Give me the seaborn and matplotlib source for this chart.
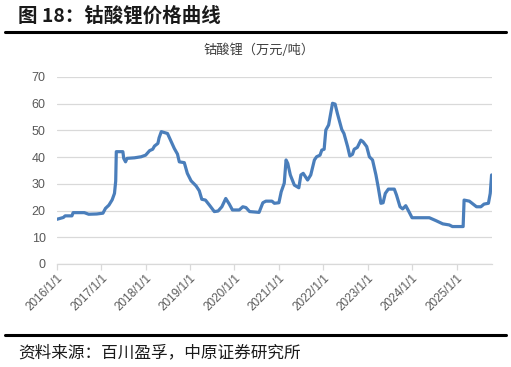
import matplotlib
matplotlib.use("Agg")
import matplotlib.pyplot as plt
import seaborn as sns
import pandas as pd

dates = [
    "2016-01-01", "2016-02-25", "2016-03-10", "2016-05-05", "2016-05-15", "2016-08-15",
    "2016-09-20", "2016-11-25", "2017-01-15", "2017-02-05", "2017-03-05", "2017-04-01",
    "2017-04-20", "2017-04-30", "2017-05-05", "2017-06-28", "2017-07-05", "2017-07-20",
    "2017-08-01", "2017-10-01", "2017-11-25", "2018-01-01", "2018-02-03", "2018-02-28",
    "2018-03-15", "2018-04-12", "2018-04-22", "2018-05-10", "2018-06-30", "2018-07-25",
    "2018-08-25", "2018-09-20", "2018-10-05", "2018-11-15", "2018-12-10", "2019-01-10",
    "2019-02-20", "2019-03-18", "2019-04-08", "2019-05-08", "2019-06-10", "2019-07-20",
    "2019-08-20", "2019-09-20", "2019-10-22", "2019-11-20", "2019-12-16", "2020-02-10",
    "2020-03-10", "2020-04-05", "2020-05-05", "2020-07-22", "2020-08-22", "2020-09-16",
    "2020-11-05", "2020-11-25", "2021-01-01", "2021-01-20", "2021-02-14", "2021-03-01",
    "2021-03-15", "2021-04-05", "2021-05-08", "2021-06-14", "2021-07-01", "2021-07-20",
    "2021-08-25", "2021-09-20", "2021-10-20", "2021-11-07", "2021-12-05", "2021-12-20",
    "2022-01-08", "2022-01-22", "2022-02-14", "2022-03-03", "2022-03-18", "2022-04-08",
    "2022-04-27", "2022-06-02", "2022-06-20", "2022-07-20", "2022-08-07", "2022-08-29",
    "2022-09-12", "2022-10-08", "2022-11-06", "2022-11-24", "2022-12-24", "2023-01-15",
    "2023-02-10", "2023-03-10", "2023-03-28", "2023-04-20", "2023-05-08", "2023-05-26",
    "2023-06-20", "2023-08-08", "2023-08-26", "2023-09-24", "2023-10-16", "2023-11-10",
    "2023-12-06", "2024-01-01", "2024-05-22", "2024-07-16", "2024-09-10", "2024-11-02",
    "2024-11-28", "2025-02-24", "2025-03-04", "2025-04-16", "2025-06-14", "2025-07-20",
    "2025-08-15", "2025-09-20", "2025-10-05", "2025-10-16",
]
prices = [
    16.7, 17.4, 18.0, 18.0, 19.2, 19.2,
    18.6, 18.7, 19.0, 20.8, 22.0, 24.0,
    26.4, 31.0, 42.0, 42.0, 39.5, 38.2,
    39.5, 39.7, 40.1, 40.7, 42.4, 42.9,
    44.1, 45.1, 47.2, 49.5, 48.8, 46.3,
    43.2, 41.1, 38.2, 37.9, 33.9, 31.1,
    29.2, 27.4, 24.2, 23.9, 22.0, 19.6,
    19.8, 21.4, 24.5, 22.4, 20.2, 20.2,
    21.4, 21.1, 19.6, 19.3, 22.9, 23.5,
    23.5, 22.7, 22.9, 27.0, 30.2, 38.9,
    37.6, 33.3, 29.5, 28.5, 33.3, 33.9,
    31.4, 33.3, 38.9, 40.1, 40.7, 42.6,
    42.9, 50.1, 52.0, 56.3, 60.1, 59.8,
    56.3, 50.3, 48.8, 43.9, 40.4, 41.0,
    42.9, 43.6, 46.3, 45.7, 43.9, 40.1,
    38.9, 33.3, 28.9, 22.7, 22.9, 26.4,
    28.0, 28.0, 25.8, 21.4, 20.6, 21.8,
    19.6, 17.3, 17.3, 16.2, 15.0, 14.6,
    14.0, 14.0, 23.9, 23.5, 21.4, 21.4,
    22.4, 22.7, 26.4, 33.3,
]
year_ticks = ["2016-01-01", "2017-01-01", "2018-01-01", "2019-01-01", "2020-01-01",
              "2021-01-01", "2022-01-01", "2023-01-01", "2024-01-01", "2025-01-01"]
year_labels = ["2016/1/1", "2017/1/1", "2018/1/1", "2019/1/1", "2020/1/1",
               "2021/1/1", "2022/1/1", "2023/1/1", "2024/1/1", "2025/1/1"]
y_ticks = [0, 10, 20, 30, 40, 50, 60, 70]
series_name = "钴酸锂（万元/吨）"
title = "图 18：钴酸锂价格曲线"
source = "资料来源：百川盈孚，中原证券研究所"

sns.set_theme(style="white")
plt.rcParams["font.family"] = ["Noto Sans CJK SC", "DejaVu Sans"]

df = pd.DataFrame({"date": pd.to_datetime(dates), "price": prices})

fig = plt.figure(figsize=(5.11, 3.67), dpi=100)
ax = fig.add_axes([0.111, 0.2807, 0.851, 0.510])
sns.lineplot(data=df, x="date", y="price", ax=ax, color="#4A7EBB", linewidth=2.3)

ax.set_xlim(pd.Timestamp("2016-01-01"), pd.Timestamp("2025-10-16"))
ax.set_ylim(0, 70)
ax.set_yticks(y_ticks)
ax.set_yticklabels([str(v) for v in y_ticks], fontsize=9, color="#595959",
                   family=["Liberation Sans"])
ax.set_xticks(pd.to_datetime(year_ticks))
ax.set_xticklabels(year_labels, rotation=45, ha="right", rotation_mode="anchor",
                   fontsize=8.5, color="#595959", family=["Liberation Sans"])
ax.set_xlabel("")
ax.set_ylabel("")
ax.grid(axis="y", color="#D9D9D9", linewidth=0.9)
for s in ["left", "right", "top"]:
    ax.spines[s].set_visible(False)
ax.spines["bottom"].set_color("#D9D9D9")
ax.spines["bottom"].set_linewidth(0.9)
ax.tick_params(axis="x", length=4, color="#D9D9D9", width=0.9, pad=2, bottom=True)
ax.tick_params(axis="y", length=0, pad=8)

fig.text(0.506, 0.862, series_name, ha="center", va="center", fontsize=9.5, color="#404040")
fig.text(0.035, 0.958, title, ha="left", va="center", fontsize=14, fontweight="bold",
         color="#1a1a1a")
fig.add_artist(plt.Line2D([0.01, 0.99], [0.914, 0.914], color="black", linewidth=2.2))
fig.add_artist(plt.Line2D([0.01, 0.99], [0.087, 0.087], color="black", linewidth=2.2))
fig.text(0.035, 0.038, source, ha="left", va="center", fontsize=12, color="#1a1a1a")

fig.savefig("out.png", dpi=100, facecolor="white")
